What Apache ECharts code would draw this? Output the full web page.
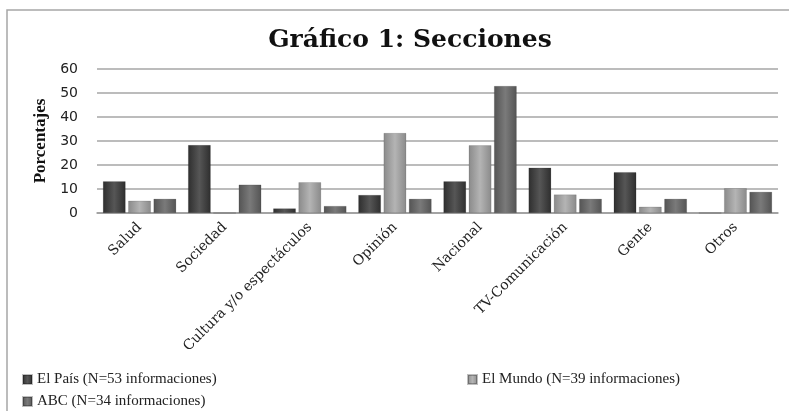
<!DOCTYPE html>
<html>
<head>
<meta charset="utf-8">
<script src="https://cdn.jsdelivr.net/npm/echarts@6/dist/echarts.min.js"></script>
<style>html,body{margin:0;padding:0;background:#fff}#c{width:789px;height:411px}</style>
</head>
<body>
<div id="c"></div>
<script>
const categories = ['Salud', 'Sociedad', 'Cultura y/o espectáculos', 'Opinión', 'Nacional', 'TV-Comunicación', 'Gente', 'Otros'];
const seriesNames = ['El País (N=53 informaciones)', 'El Mundo (N=39 informaciones)', 'ABC (N=34 informaciones)'];
const elPais = [13.2, 28.3, 1.9, 7.5, 13.2, 18.9, 17.0, 0];
const elMundo = [5.1, 0, 12.8, 33.3, 28.2, 7.7, 2.6, 10.3];
const abc = [5.9, 11.8, 2.9, 5.9, 52.9, 5.9, 5.9, 8.8];
const yTicks = { min: 0, max: 60, interval: 10 };

function grad(edge, mid) {
  return new echarts.graphic.LinearGradient(0, 0, 1, 0, [
    { offset: 0, color: edge },
    { offset: 0.5, color: mid },
    { offset: 1, color: edge }
  ]);
}
const colors = [grad('#2e2e2e', '#565656'), grad('#8a8a8a', '#b4b4b4'), grad('#545454', '#7a7a7a')];

const chart = echarts.init(document.getElementById('c'));
const mk = (name, data, i) => ({
  name, type: 'bar', data,
  barCategoryGap: '14%', barGap: '12%',
  itemStyle: { color: colors[i], borderColor: 'rgba(0,0,0,0.25)', borderWidth: 0.5 }
});
const legendText = { fontFamily: 'Liberation Serif', fontSize: 15, color: '#222' };
chart.setOption({
  animation: false,
  backgroundColor: '#fff',
  graphic: [{ type: 'rect', shape: { x: 7, y: 10, width: 800, height: 420 }, style: { fill: 'none', stroke: '#a6a6a6', lineWidth: 1.5 }, silent: true }],
  title: {
    text: 'Gráfico 1: Secciones', left: 405, top: 23, textAlign: 'center',
    textStyle: { fontFamily: 'DejaVu Serif', fontWeight: 'bold', fontSize: 25, color: '#111' }
  },
  legend: [
    { data: [seriesNames[0]], left: 17, top: 367, icon: 'rect', itemWidth: 9, itemHeight: 9, itemGap: 4, textStyle: legendText },
    { data: [seriesNames[1]], left: 462, top: 367, icon: 'rect', itemWidth: 9, itemHeight: 9, itemGap: 4, textStyle: legendText },
    { data: [seriesNames[2]], left: 17, top: 389, icon: 'rect', itemWidth: 9, itemHeight: 9, itemGap: 4, textStyle: legendText }
  ],
  grid: { left: 97, right: 11, top: 69, height: 144, containLabel: false },
  xAxis: {
    type: 'category', data: categories,
    axisLine: { lineStyle: { color: '#9a9a9a', width: 1.5 } },
    axisTick: { show: false },
    axisLabel: { rotate: 45, interval: 0, margin: 12, fontFamily: 'DejaVu Serif', fontSize: 14, color: '#222' }
  },
  yAxis: {
    type: 'value', min: yTicks.min, max: yTicks.max, interval: yTicks.interval,
    name: 'Porcentajes', nameLocation: 'middle', nameGap: 47, nameRotate: 90,
    nameTextStyle: { fontFamily: 'Liberation Serif', fontWeight: 'bold', fontSize: 17, color: '#111' },
    axisLine: { show: false }, axisTick: { show: false },
    axisLabel: { margin: 19, fontFamily: 'DejaVu Sans', fontSize: 14, color: '#222' },
    splitLine: { lineStyle: { color: '#a6a6a6', width: 1.5 } }
  },
  series: [mk(seriesNames[0], elPais, 0), mk(seriesNames[1], elMundo, 1), mk(seriesNames[2], abc, 2)]
});
</script>
</body>
</html>
